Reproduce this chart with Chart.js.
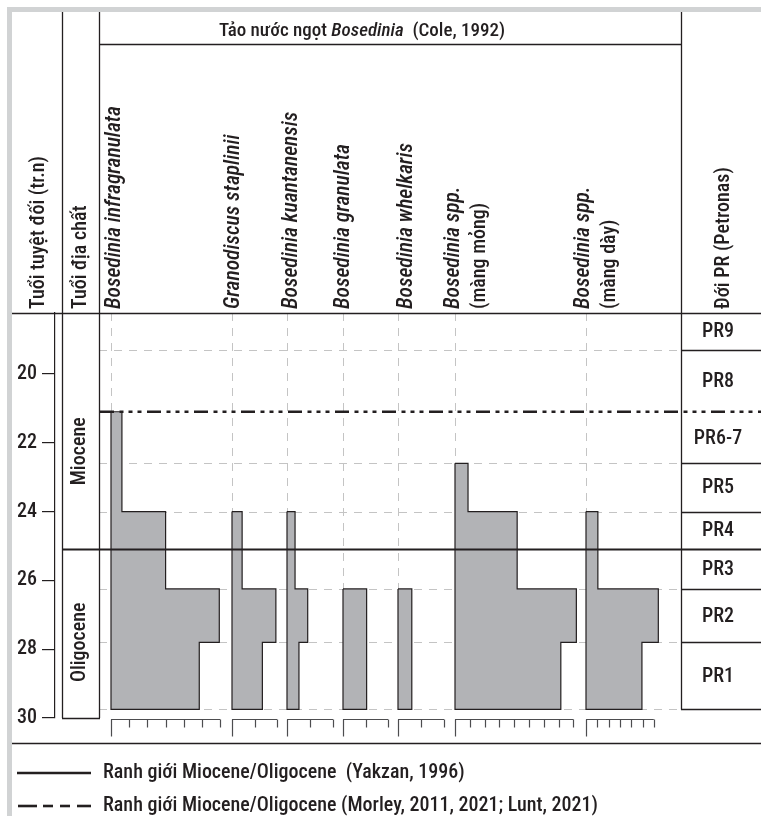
<!DOCTYPE html>
<html><head><meta charset="utf-8">
<script src="https://cdn.jsdelivr.net/npm/chart.js@4.4.1/dist/chart.umd.min.js"></script>
<style>body{margin:0;background:#fff}</style>
</head><body>
<canvas id="strat" width="761" height="816"></canvas>
<script>
// ages in tr.n (million years)
const ageTicks = [20, 22, 24, 26, 28, 30];
const intervalTops = [21.1, 22.6, 24.0, 26.25, 27.8];
const intervalBases = [22.6, 24.0, 26.25, 27.8, 29.75];

// abundance per interval, in units of the column's own bottom scale
const infragranulata = [0.6, 0.6, 3.0, 5.95, 4.85];
const staplinii = [0, 0, 0.45, 1.95, 1.35];
const kuantanensis = [0, 0, 0.35, 0.9, 0.52];
const granulata = [0, 0, 0, 1.05, 1.05];
const whelkaris = [0, 0, 0, 0.6, 0.6];
const sppThin = [0, 0.88, 4.2, 8.2, 7.15];
const sppThick = [0, 0, 1.05, 6.4, 4.95];
const taxaValues = [infragranulata, staplinii, kuantanensis, granulata, whelkaris, sppThin, sppThick];

const prZones = ['PR9', 'PR8', 'PR6-7', 'PR5', 'PR4', 'PR3', 'PR2', 'PR1'];
const prBounds = [18.23, 19.3, 21.1, 22.6, 24.0, 25.1, 26.25, 27.8, 29.75];
const epochs = ['Miocene', 'Oligocene'];
const epochLabelAges = [22.25, 27.8];
const yakzanBoundary = 25.1;
const morleyBoundary = 21.1;

// layout
const colLeft = [111, 232, 287, 343, 398, 455, 586];
const tickPx = [18.2, 22.5, 23, 22.5, 23, 14.8, 11.3];
const tickCount = [6, 2, 2, 2, 2, 8, 6];
const ink = '#231f20';
const FAM = "'Roboto Condensed', 'Liberation Sans', sans-serif";
const WT = '500 ';

const headers = [
	['Tuổi tuyệt đối (tr.n)', 44, false],
	['Tuổi địa chất', 86, false],
	['Bosedinia infragranulata', 120, true],
	['Granodiscus staplinii', 239, true],
	['Bosedinia kuantanensis', 297, true],
	['Bosedinia granulata', 349, true],
	['Bosedinia whelkaris', 412, true],
	['Bosedinia spp.', 459, true],
	['(màng mỏng)', 485, false],
	['Bosedinia spp.', 589, true],
	['(màng dày)', 615, false],
	['Đới PR (Petronas)', 729, false]
];

function outline(vals, i) {
	const base = colLeft[i], u = tickPx[i];
	let first = -1, last = -1;
	vals.forEach((v, k) => { if (v > 0) { if (first < 0) first = k; last = k; } });
	const pts = [{x: base, y: intervalTops[first]}];
	for (let k = first; k <= last; k++) {
		const x = base + vals[k] * u;
		pts.push({x: x, y: intervalTops[k]});
		pts.push({x: x, y: intervalBases[k]});
	}
	pts.push({x: base, y: intervalBases[last]});
	pts.push({x: base, y: intervalTops[first]});
	return pts;
}

function line(ctx, x1, y1, x2, y2) {
	ctx.beginPath();
	ctx.moveTo(x1, y1);
	ctx.lineTo(x2, y2);
	ctx.stroke();
}

function font(italic, size) {
	return (italic ? 'italic ' : '') + WT + size + 'px ' + FAM;
}

function vtext(ctx, t, x, y, italic, size) {
	ctx.save();
	ctx.translate(x, y);
	ctx.rotate(-Math.PI / 2);
	ctx.font = font(italic, size);
	ctx.fillText(t, 0, 0);
	ctx.restore();
}

const figure = {
	id: 'figure',
	beforeDraw(chart) {
		const ctx = chart.ctx;
		const y = chart.scales.y, a = chart.chartArea;
		ctx.save();
		ctx.fillStyle = '#fff';
		ctx.fillRect(0, 0, chart.width, chart.height);
		ctx.fillStyle = '#d1d3d4';
		ctx.fillRect(7, 7, 754, 5);
		ctx.fillRect(7, 7, 5, 809);
		// light dashed grid
		ctx.strokeStyle = '#c4c4c4';
		ctx.lineWidth = 1;
		ctx.setLineDash([8, 7]);
		prBounds.slice(1).forEach(v => {
			if (v === yakzanBoundary || v === morleyBoundary) return;
			const py = Math.round(y.getPixelForValue(v)) + 0.5;
			line(ctx, 99, py, 681, py);
		});
		const bottom = y.getPixelForValue(prBounds[prBounds.length - 1]);
		colLeft.forEach(x => line(ctx, x + 0.5, a.top, x + 0.5, bottom));
		ctx.restore();
	},
	afterDatasetsDraw(chart) {
		const ctx = chart.ctx;
		const y = chart.scales.y;
		ctx.save();
		ctx.strokeStyle = ink;
		ctx.lineWidth = 2;
		let py = y.getPixelForValue(yakzanBoundary);
		line(ctx, 62, py, 761, py);
		py = y.getPixelForValue(morleyBoundary);
		ctx.lineWidth = 2.6;
		ctx.setLineDash([14, 5.5, 4, 5, 4, 5, 4, 5.5]);
		line(ctx, 100, py, 761, py);
		ctx.restore();
	},
	afterDraw(chart) {
		const ctx = chart.ctx;
		const y = chart.scales.y, a = chart.chartArea;
		ctx.save();
		ctx.strokeStyle = ink;
		ctx.fillStyle = ink;
		ctx.lineWidth = 1.3;
		// frame
		line(ctx, 62.5, 12, 62.5, a.bottom);
		line(ctx, 99.5, 12, 99.5, a.bottom);
		line(ctx, 62, a.bottom + 0.5, 100, a.bottom + 0.5);
		const prBottom = y.getPixelForValue(prBounds[prBounds.length - 1]);
		line(ctx, 681.5, 12, 681.5, prBottom);
		line(ctx, 99, 44.5, 682, 44.5);
		line(ctx, 12, a.top + 0.5, 761, a.top + 0.5);
		// title
		ctx.textBaseline = 'alphabetic';
		ctx.textAlign = 'left';
		const parts = [['Tảo nước ngọt ', false], ['Bosedinia', true], ['  (Cole, 1992)', false]];
		let w = 0;
		parts.forEach(p => { ctx.font = font(p[1], 19); w += ctx.measureText(p[0]).width; });
		let tx = 362 - w / 2;
		parts.forEach(p => {
			ctx.font = font(p[1], 19);
			ctx.fillText(p[0], tx, 36);
			tx += ctx.measureText(p[0]).width;
		});
		// column headers
		headers.forEach(h => vtext(ctx, h[0], h[1], 309, h[2], h[2] ? 21.5 : 20));
		// epochs
		ctx.textAlign = 'center';
		ctx.textBaseline = 'middle';
		epochs.forEach((e, i) => vtext(ctx, e, 80, y.getPixelForValue(epochLabelAges[i]), false, 20));
		// PR zones
		ctx.font = font(false, 20);
		prZones.forEach((z, i) => {
			const y0 = y.getPixelForValue(prBounds[i]);
			const y1 = y.getPixelForValue(prBounds[i + 1]);
			ctx.fillText(z, 718, (y0 + y1) / 2 + 1);
			if (prBounds[i + 1] !== yakzanBoundary && prBounds[i + 1] !== morleyBoundary) {
				line(ctx, 681, Math.round(y1) + 0.5, 761, Math.round(y1) + 0.5);
			}
		});
		// bottom scales
		ctx.strokeStyle = '#4d4d4f';
		ctx.lineWidth = 1.2;
		const sy = a.bottom + 1.5;
		colLeft.forEach((x0, i) => {
			const x1 = x0 + tickCount[i] * tickPx[i];
			line(ctx, x0, sy, x1, sy);
			for (let k = 0; k <= tickCount[i]; k++) {
				const tx2 = Math.round(x0 + k * tickPx[i]) + 0.5;
				line(ctx, tx2, sy, tx2, k === 0 ? sy + 17 : sy + 8);
			}
		});
		// legend
		ctx.strokeStyle = ink;
		ctx.lineWidth = 1.5;
		line(ctx, 12, 743.5, 761, 743.5);
		ctx.lineWidth = 2.6;
		line(ctx, 17, 773, 91, 773);
		[[18, 37], [43, 53], [60, 70], [77, 91]].forEach(s => line(ctx, s[0], 806, s[1], 806));
		ctx.textAlign = 'left';
		ctx.font = font(false, 20);
		ctx.fillText('Ranh giới Miocene/Oligocene  (Yakzan, 1996)', 103, 773);
		ctx.fillText('Ranh giới Miocene/Oligocene (Morley, 2011, 2021; Lunt, 2021)', 103, 806);
		ctx.restore();
	}
};

new Chart(document.getElementById('strat'), {
	type: 'scatter',
	data: {
		datasets: taxaValues.map((vals, i) => ({
			label: headers[i + 2][0],
			data: outline(vals, i),
			showLine: true,
			fill: 'shape',
			backgroundColor: '#b2b3b6',
			borderColor: ink,
			borderWidth: 1.2,
			pointRadius: 0,
			tension: 0
		}))
	},
	options: {
		responsive: false,
		animation: false,
		devicePixelRatio: 1,
		layout: {padding: {left: 10, top: 313, right: 0, bottom: 98}},
		plugins: {legend: {display: false}, tooltip: {enabled: false}},
		scales: {
			x: {type: 'linear', min: 55, max: 761, display: false},
			y: {
				type: 'linear',
				reverse: true,
				min: 18.23,
				max: 30,
				afterBuildTicks: s => { s.ticks = ageTicks.map(v => ({value: v})); },
				afterFit: s => { s.width = 45; },
				grid: {drawOnChartArea: false, tickLength: 13, color: ink, lineWidth: 1.2},
				border: {color: ink, width: 1.2},
				ticks: {color: ink, font: {family: FAM, size: 20, weight: 500}, padding: 5}
			}
		}
	},
	plugins: [figure]
});
</script>
</body></html>
